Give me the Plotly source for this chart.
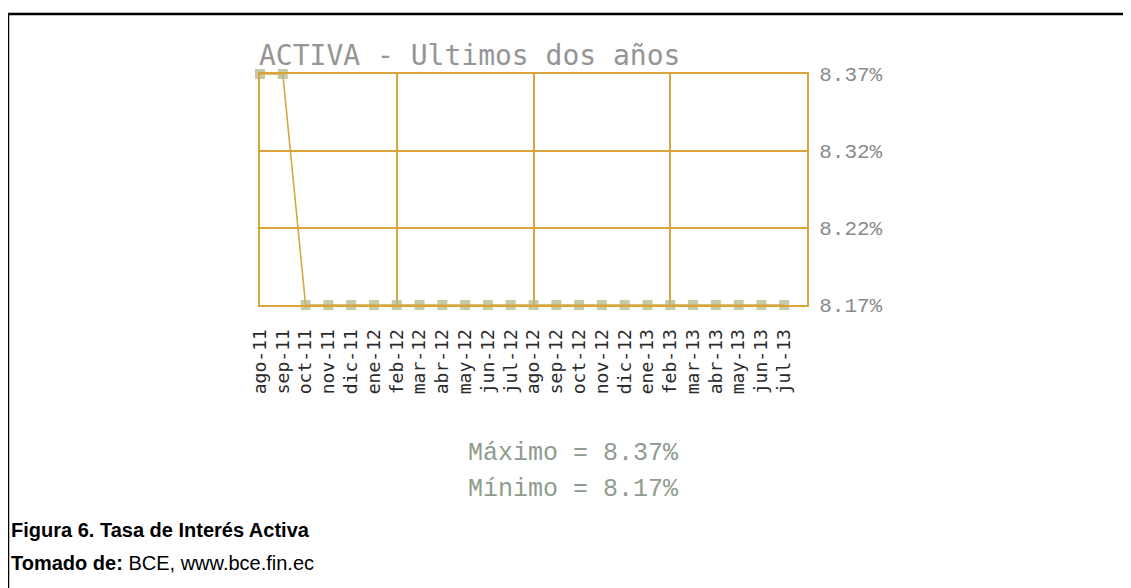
import plotly.graph_objects as go

# ---- data -------------------------------------------------------------
months = ["ago-11", "sep-11", "oct-11", "nov-11", "dic-11", "ene-12",
          "feb-12", "mar-12", "abr-12", "may-12", "jun-12", "jul-12",
          "ago-12", "sep-12", "oct-12", "nov-12", "dic-12", "ene-13",
          "feb-13", "mar-13", "abr-13", "may-13", "jun-13", "jul-13"]
rates = [8.37, 8.37, 8.17, 8.17, 8.17, 8.17,
         8.17, 8.17, 8.17, 8.17, 8.17, 8.17,
         8.17, 8.17, 8.17, 8.17, 8.17, 8.17,
         8.17, 8.17, 8.17, 8.17, 8.17, 8.17]
y_tick_labels = ["8.17%", "8.22%", "8.32%", "8.37%"]
title_text = "ACTIVA - Ultimos dos años"
caption_1 = "<b>Figura 6. Tasa de Interés Activa</b>"
caption_2 = "<b>Tomado de:</b> BCE, www.bce.fin.ec"

# ---- layout geometry (page body adds an 8px offset) -------------------
OFF = 8
W_FIG, H_FIG = 1131 - OFF, 588 - OFF
# plot area in screen pixels: x 260..807, y 74..305
SX0, SX1, SY0, SY1 = 260, 807, 74, 305
L = SX0 - OFF
T = SY0 - OFF
R = W_FIG - (SX1 - OFF)
B = H_FIG - (SY1 - OFF)
PW = W_FIG - L - R
PH = H_FIG - T - B


def fx(px):  # screen px -> paper x
    return (px - OFF - L) / PW


def fy(py):  # screen px -> paper y
    return (H_FIG - B - (py - OFF)) / PH


GOLD = "#d9a53a"
x_idx = list(range(len(months)))
y_min, y_max = min(rates), max(rates)
n_lab = len(y_tick_labels)
y_tickvals = [y_min + i * (y_max - y_min) / (n_lab - 1) for i in range(n_lab)]
x_grid = [i for i in x_idx if i % 6 == 0 and i > 0]

fig = go.Figure()
fig.add_trace(go.Scatter(
    x=x_idx, y=rates, mode="lines+markers",
    line=dict(color="#d6a640", width=1.6),
    marker=dict(symbol="square", size=10, color="rgba(180,186,135,0.75)",
                line=dict(width=0)),
    cliponaxis=False, showlegend=False, hoverinfo="skip",
))

fig.update_layout(
    width=W_FIG, height=H_FIG,
    margin=dict(l=L, r=R, t=T, b=B, pad=0),
    paper_bgcolor="white", plot_bgcolor="white",
    showlegend=False,
    xaxis=dict(
        range=[0, 24], tickmode="array", tickvals=x_idx, ticktext=months,
        tickangle=-90, showgrid=False, zeroline=False,
        showline=True, linecolor=GOLD, linewidth=2, mirror=True,
        ticks="", ticklabelstandoff=15,
        tickfont=dict(family="DejaVu Sans Mono", size=18, color="#2a2a2a"),
        minor=dict(tickmode="array", tickvals=x_grid, showgrid=True,
                   gridcolor=GOLD, gridwidth=2, ticks=""),
    ),
    yaxis=dict(
        range=[y_min, y_max], side="right", tickmode="array",
        tickvals=y_tickvals, ticktext=y_tick_labels,
        showgrid=True, gridcolor=GOLD, gridwidth=2, zeroline=False,
        showline=True, linecolor=GOLD, linewidth=2, mirror=True,
        ticks="", ticklabelstandoff=6,
        tickfont=dict(family="Liberation Mono", size=21, color="#8a8a8a"),
    ),
)

ann = []
ann.append(dict(text=title_text, x=fx(257), y=fy(56), xref="paper", yref="paper",
                xanchor="left", yanchor="middle", showarrow=False,
                font=dict(family="DejaVu Sans Mono", size=28, color="#959595")))
ann.append(dict(text=f"Máximo = {y_max:.2f}%", x=fx(573), y=fy(453),
                xref="paper", yref="paper", xanchor="center", yanchor="middle",
                showarrow=False,
                font=dict(family="Liberation Mono", size=25, color="#8d9c8d")))
ann.append(dict(text=f"Mínimo = {y_min:.2f}%", x=fx(573), y=fy(490),
                xref="paper", yref="paper", xanchor="center", yanchor="middle",
                showarrow=False,
                font=dict(family="Liberation Mono", size=25, color="#8d9c8d")))
ann.append(dict(text=caption_1, x=fx(9), y=fy(530), xref="paper", yref="paper",
                xanchor="left", yanchor="middle", showarrow=False,
                font=dict(family="Liberation Sans", size=20, color="black")))
ann.append(dict(text=caption_2, x=fx(9), y=fy(563), xref="paper", yref="paper",
                xanchor="left", yanchor="middle", showarrow=False,
                font=dict(family="Liberation Sans", size=20, color="black")))
fig.update_layout(annotations=ann)

# outer frame of the figure
fig.add_shape(type="line", xref="paper", yref="paper",
              x0=fx(7), x1=fx(1140), y0=fy(14), y1=fy(14),
              line=dict(color="black", width=2.5))
fig.add_shape(type="line", xref="paper", yref="paper",
              x0=fx(8), x1=fx(8), y0=fy(14), y1=fy(600),
              line=dict(color="black", width=2.5))

fig.write_html("out.html")
